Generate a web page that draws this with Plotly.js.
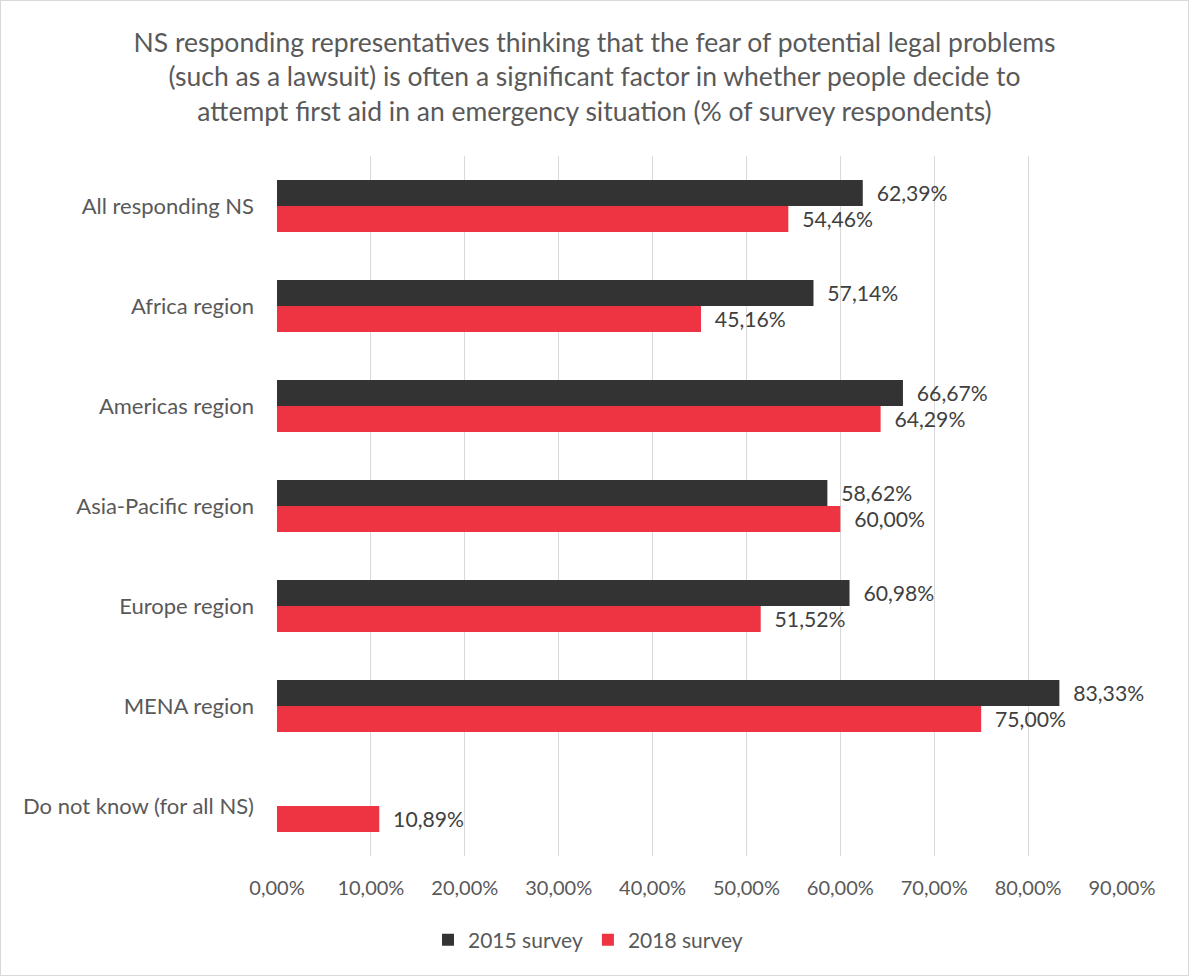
<!DOCTYPE html>
<html>
<head>
<meta charset="utf-8">
<script src="https://cdn.plot.ly/plotly-3.0.1.min.js"></script>
<style>
html,body{margin:0;padding:0;background:#fff;}
#wrap{width:1189px;height:976px;box-sizing:border-box;border:1px solid #d9d9d9;overflow:hidden;}
#chart{width:1187px;height:974px;}
</style>
</head>
<body>
<div id="wrap"><div id="chart"></div></div>
<script>
const categories = ["All responding NS","Africa region","Americas region","Asia-Pacific region","Europe region","MENA region","Do not know (for all NS)"];
const series2015 = [62.39, 57.14, 66.67, 58.62, 60.98, 83.33, null];
const series2018 = [54.46, 45.16, 64.29, 60.00, 51.52, 75.00, 10.89];
const tickValues = [0,10,20,30,40,50,60,70,80,90];
const tickLabels = ["0,00%","10,00%","20,00%","30,00%","40,00%","50,00%","60,00%","70,00%","80,00%","90,00%"];

const fmt = v => v == null ? "" : "\u00a0\u00a0" + v.toFixed(2).replace(".", ",") + "%";
const FONT = "Lato, 'Open Sans', sans-serif";

const traces = [
  {type:"bar", orientation:"h", name:"2015 survey", y:categories, x:series2015,
   marker:{color:"#333333"}, text:series2015.map(fmt), textposition:"outside",
   textfont:{size:22, color:"#404040", family:FONT}, cliponaxis:false, hoverinfo:"x+y"},
  {type:"bar", orientation:"h", name:"2018 survey", y:categories, x:series2018,
   marker:{color:"#EE3342"}, text:series2018.map(fmt), textposition:"outside",
   textfont:{size:22, color:"#404040", family:FONT}, cliponaxis:false, hoverinfo:"x+y"}
];

const layout = {
  width:1187, height:974,
  paper_bgcolor:"#ffffff", plot_bgcolor:"#ffffff",
  font:{family:FONT, color:"#595959"},
  margin:{l:276, r:66, t:155, b:119, autoexpand:false},
  title:{text:"NS responding representatives thinking that the fear of potential legal problems<br>(such as a lawsuit) is often a significant factor in whether people decide to<br>attempt first aid in an emergency situation (% of survey respondents)",
         font:{size:26.5, color:"#595959", family:FONT}, x:0.5, xanchor:"center", y:1-51/974, yanchor:"middle", yref:"container"},
  barmode:"group", bargap:0.48, bargroupgap:0,
  xaxis:{range:[0,90], tickvals:tickValues, ticktext:tickLabels, showgrid:true, gridcolor:"#d9d9d9", gridwidth:1,
         zeroline:false, showline:false, ticks:"", tickfont:{size:20, color:"#595959"}, ticklabelstandoff:18, fixedrange:true},
  yaxis:{type:"category", autorange:"reversed", showgrid:false, zeroline:false, showline:false, ticks:"",
         tickfont:{size:22, color:"#595959"}, ticklabelstandoff:22, fixedrange:true},
  legend:{orientation:"h", x:(427-276)/845, xanchor:"left", y:-0.12, yanchor:"middle", font:{size:21, color:"#595959"},
          traceorder:"normal", itemwidth:30},
  showlegend:true
};

Plotly.newPlot("chart", traces, layout, {displayModeBar:false, staticPlot:true});
</script>
</body>
</html>
